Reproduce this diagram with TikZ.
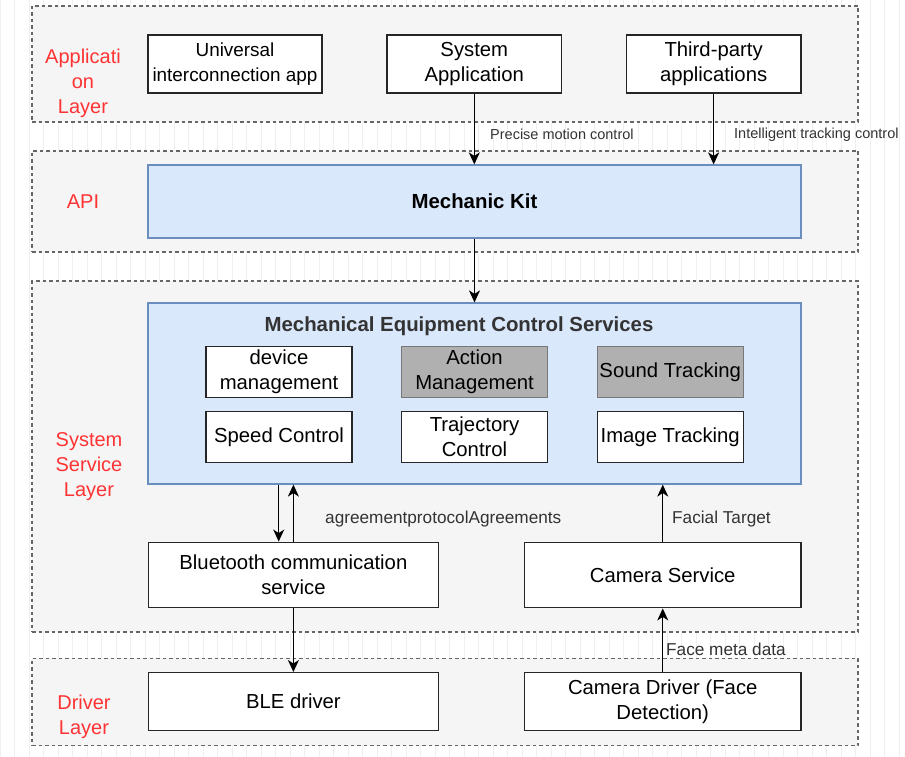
\documentclass[tikz,border=0pt]{standalone}
\usepackage{fontspec}
\setmainfont{Liberation Sans}
\usetikzlibrary{arrows.meta}
\definecolor{layerfill}{HTML}{F5F5F5}
\definecolor{layerline}{HTML}{666666}
\definecolor{bluefill}{HTML}{DAE8FC}
\definecolor{blueline}{HTML}{6C8EBF}
\definecolor{grayfill}{HTML}{B0B0B0}
\definecolor{grayline}{HTML}{777777}
\definecolor{redtext}{HTML}{FF3333}
\definecolor{labeltext}{HTML}{333333}
\definecolor{gridcol}{HTML}{EFEFEF}
\newcommand{\boxfont}{\fontsize{20.3}{25}\selectfont}
\newcommand{\unifont}{\fontsize{18.9}{25}\selectfont}
\newcommand{\smallfont}{\fontsize{14.5}{17}\selectfont}
\newcommand{\midfont}{\fontsize{17.2}{20}\selectfont}
\newcommand{\titlefont}{\fontsize{20.4}{24}\selectfont\bfseries}
\tikzset{
  layerbox/.style={draw=layerline, fill=layerfill, dash pattern=on 3.5pt off 3pt, line width=1.2pt, inner sep=0pt},
  whitebox/.style={draw=black!85, fill=white, line width=1.4pt, align=center, font=\boxfont, inner sep=0pt},
  graybox/.style={draw=grayline, fill=grayfill, line width=1.2pt, align=center, font=\boxfont, inner sep=0pt},
  bluebox/.style={draw=blueline, fill=bluefill, line width=1.2pt, inner sep=0pt},
  redlabel/.style={text=redtext, align=center, font=\fontsize{20}{25}\selectfont, inner sep=0pt},
  edgelabel/.style={text=labeltext, font=\smallfont, inner sep=0pt, anchor=west},
  edgelabelb/.style={text=labeltext, font=\midfont, inner sep=0pt, anchor=west},
  arr/.style={draw=black, line width=1.3pt, -{Stealth[length=12pt,width=11pt,inset=3.5pt]}}
}
\begin{document}
\begin{tikzpicture}[x=1pt,y=-1pt]
\fill[white] (0,0) rectangle (905,757);
\useasboundingbox (0,0) rectangle (905,757);
\draw[gridcol, line width=0.6pt, step=14.5] (0,0) grid (905,757);

% layers
\node[layerbox, minimum width=826, minimum height=116] (applayer) at (445,64) {};
\node[layerbox, minimum width=826, minimum height=101] (apilayer) at (445,201.5) {};
\node[layerbox, minimum width=826, minimum height=351] (syslayer) at (445,456.5) {};
\node[layerbox, minimum width=826, minimum height=87.5] (drvlayer) at (445,702) {};

% layer labels
\node[redlabel] (appl) at (83,83) {Applicati\\on\\Layer};
\node[redlabel] (apil) at (83,201.5) {API};
\node[redlabel] (sysl) at (89,467) {System\\Service\\Layer};
\node[redlabel] (drvl) at (84,717) {Driver\\Layer};

% application layer
\node[whitebox, font=\unifont, minimum width=174, minimum height=58] (uni) at (235,64) {Universal\\interconnection app};
\node[whitebox, minimum width=174.5, minimum height=58] (sysapp) at (474.3,64) {System\\Application};
\node[whitebox, minimum width=174.5, minimum height=58] (third) at (713.6,64) {Third-party\\applications};

% API
\node[bluebox, minimum width=653, minimum height=73] (kit) at (474.5,201.5) {};
\node[font=\titlefont, text=black] (kittext) at (474.5,201.5) {Mechanic Kit};

% services container
\node[bluebox, minimum width=653, minimum height=181] (mecs) at (474.5,393.5) {};
\node[font=\titlefont, text=labeltext, inner sep=0pt] (mecstitle) at (459,326.5) {Mechanical Equipment Control Services};

\node[whitebox, minimum width=146, minimum height=51] (devm) at (279,372.2) {device\\management};
\node[graybox, minimum width=146, minimum height=51] (actm) at (474.5,372.2) {Action\\Management};
\node[graybox, minimum width=146, minimum height=51] (sound) at (670.2,372.2) {Sound Tracking};
\node[whitebox, minimum width=146, minimum height=51] (speed) at (279,437.2) {Speed Control};
\node[whitebox, minimum width=146, minimum height=51] (traj) at (474.5,437.2) {Trajectory\\Control};
\node[whitebox, minimum width=146, minimum height=51] (image) at (670.2,437.2) {Image Tracking};

% lower service boxes
\node[whitebox, minimum width=290, minimum height=65.5] (bt) at (293.4,575) {Bluetooth communication\\service};
\node[whitebox, minimum width=276.5, minimum height=65.5] (cam) at (662.75,575) {Camera Service};

% driver boxes
\node[whitebox, minimum width=290, minimum height=58] (ble) at (293.4,701.7) {BLE driver};
\node[whitebox, minimum width=276.5, minimum height=58] (camdrv) at (662.75,701.7) {Camera Driver (Face\\Detection)};

% connectors
\draw[arr] (sysapp.south) -- (sysapp.south |- kit.north);
\draw[arr] (third.south) -- (third.south |- kit.north);
\draw[arr] (kit.south) -- (kit.south |- mecs.north);
\draw[arr] ([xshift=-14.7pt]bt.north |- mecs.south) -- ([xshift=-14.7pt]bt.north);
\draw[arr] (bt.north) -- (bt.north |- mecs.south);
\draw[arr] (cam.north) -- (cam.north |- mecs.south);
\draw[arr] (bt.south) -- (bt.south |- ble.north);
\draw[arr] (camdrv.north) -- (camdrv.north |- cam.south);

% edge labels
\node[edgelabel] (lbl1) at (490,134.5) {Precise motion control};
\node[edgelabel] (lbl2) at (734,134.5) {Intelligent tracking control};
\node[edgelabelb] (lbl3) at (325,519.5) {agreementprotocolAgreements};
\node[edgelabelb] (lbl4) at (672,519.5) {Facial Target};
\node[edgelabelb] (lbl5) at (666,649.5) {Face meta data};
\end{tikzpicture}
\end{document}
